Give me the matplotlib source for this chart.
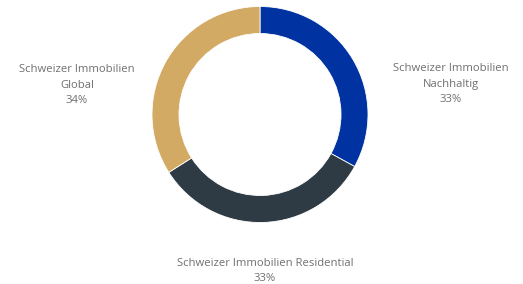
import matplotlib.pyplot as plt

labels = ["Schweizer Immobilien\nNachhaltig", "Schweizer Immobilien Residential", "Schweizer Immobilien\nGlobal"]
values = [33, 33, 34]
colors = ["#0033a1", "#2e3a44", "#d2aa64"]

plt.rcParams['font.family'] = ['Open Sans', 'DejaVu Sans']

fig = plt.figure(figsize=(5.23, 2.84), dpi=100)
ax = fig.add_axes([0, 0, 1, 1])

ax.pie(values, colors=colors, startangle=90, counterclock=False,
       center=(260, 169.5), radius=108, frame=True,
       wedgeprops=dict(width=27, edgecolor='white', linewidth=0.6))
ax.set_xlim(0, 523)
ax.set_ylim(0, 284)
ax.set_aspect('equal')
ax.axis('off')

tc = "#707070"
fs = 8.1
# label positions (pixels, y up)
pos = [(451, 200), (265, 13), (77, 199)]
for lab, v, (x, y) in zip(labels, values, pos):
    ax.text(x, y, f"{lab}\n{v}%", ha='center', va='center', color=tc,
            fontsize=fs, linespacing=1.6)

fig.savefig("out.png", dpi=100)
